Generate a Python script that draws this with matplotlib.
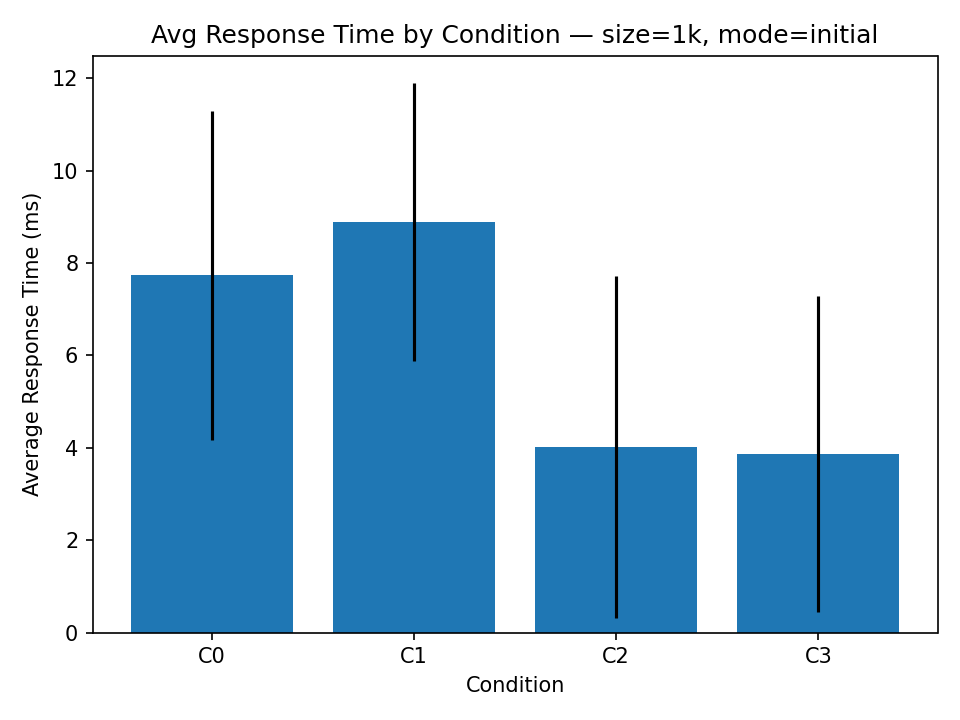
import matplotlib
matplotlib.use("Agg")
import matplotlib.pyplot as plt

conditions = ["C0", "C1", "C2", "C3"]
avg_ms = [7.74, 8.89, 4.02, 3.87]
std_ms = [3.56, 3.00, 3.71, 3.42]

fig, ax = plt.subplots(figsize=(6.4, 4.8))
ax.bar(conditions, avg_ms, yerr=std_ms, color="#1f77b4", ecolor="black")
ax.set_xlabel("Condition")
ax.set_ylabel("Average Response Time (ms)")
ax.set_title("Avg Response Time by Condition — size=1k, mode=initial")

plt.tight_layout()
plt.savefig("out.png", dpi=150)
plt.close()
